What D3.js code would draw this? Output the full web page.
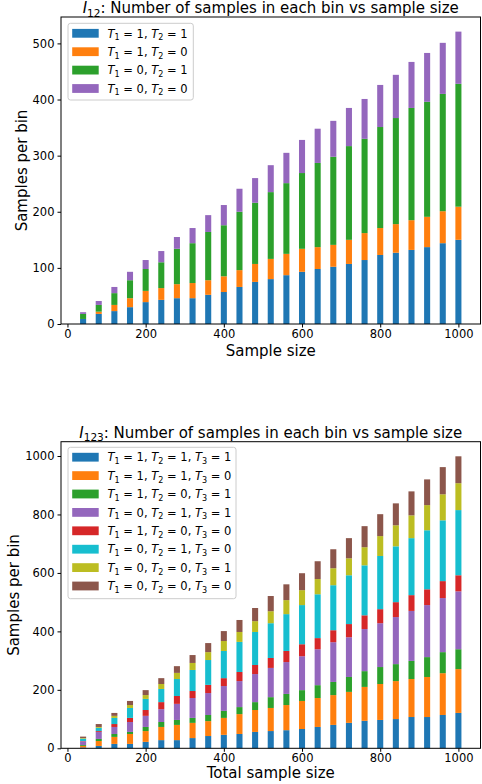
<!DOCTYPE html>
<html>
<head>
<meta charset="utf-8">
<script src="https://cdn.jsdelivr.net/npm/d3@7"></script>
<style>
  html, body { margin: 0; padding: 0; background: #fff; }
  svg { display: block; }
  text { font-family: "DejaVu Sans", sans-serif; white-space: pre; }
</style>
</head>
<body>
<svg id="chart" width="482" height="784"></svg>
<script>
// Sample sizes on the x axis
const sampleSizes = [40, 80, 120, 160, 200, 240, 280, 320, 360, 400, 440, 480, 520,
                     560, 600, 640, 680, 720, 760, 800, 840, 880, 920, 960, 1000];

// I12 panel: samples per (T1, T2) bin
const i12_11 = [9, 18, 23, 30, 39, 43, 46, 46, 52, 57, 66, 75, 80, 87, 93, 98, 102, 107, 114, 123, 127, 132, 137, 144, 150];
const i12_10 = [0, 4, 11, 16, 20, 21, 25, 27, 26, 28, 30, 32, 36, 38, 41, 39, 39, 43, 48, 48, 51, 53, 54, 57, 59];
const i12_01 = [9, 12, 21, 32, 39, 46, 63, 71, 86, 91, 104, 109, 119, 126, 135, 150, 157, 167, 168, 180, 189, 200, 205, 209, 219];
const i12_00 = [3, 7, 11, 15, 16, 20, 21, 27, 30, 36, 41, 44, 48, 54, 59, 61, 64, 68, 71, 75, 77, 82, 87, 91, 93];
const i12Labels = ["T_1 = 1, T_2 = 1", "T_1 = 1, T_2 = 0", "T_1 = 0, T_2 = 1", "T_1 = 0, T_2 = 0"];

// I123 panel: samples per (T1, T2, T3) bin
const i123_111 = [3, 8, 15, 15, 22, 28, 28, 35, 42, 46, 49, 56, 59, 62, 66, 73, 80, 87, 94, 97, 100, 107, 107, 114, 121];
const i123_110 = [5, 17, 24, 34, 37, 45, 52, 52, 51, 58, 68, 75, 79, 86, 96, 99, 102, 106, 116, 123, 130, 130, 137, 143, 150];
const i123_101 = [3, 7, 10, 7, 14, 17, 17, 17, 21, 24, 24, 27, 37, 38, 37, 44, 45, 51, 54, 58, 58, 62, 68, 72, 68];
const i123_011 = [13, 24, 24, 34, 38, 44, 55, 68, 75, 85, 89, 96, 100, 109, 116, 123, 136, 136, 144, 150, 161, 171, 178, 185, 198];
const i123_100 = [1, 3, 10, 14, 20, 24, 27, 24, 28, 27, 31, 31, 34, 38, 41, 38, 41, 45, 47, 48, 51, 54, 54, 58, 55];
const i123_010 = [8, 11, 21, 34, 38, 45, 58, 72, 85, 93, 103, 113, 119, 126, 134, 150, 154, 167, 171, 182, 191, 195, 202, 208, 223];
const i123_001 = [2, 3, 7, 10, 13, 17, 21, 24, 27, 34, 34, 37, 41, 48, 51, 52, 58, 58, 62, 68, 72, 78, 86, 89, 92];
const i123_000 = [5, 10, 10, 14, 17, 20, 23, 27, 31, 34, 41, 45, 52, 54, 58, 61, 65, 69, 72, 75, 75, 82, 88, 93, 92];
const i123Labels = ["T_1 = 1, T_2 = 1, T_3 = 1", "T_1 = 1, T_2 = 1, T_3 = 0", "T_1 = 1, T_2 = 0, T_3 = 1",
                    "T_1 = 0, T_2 = 1, T_3 = 1", "T_1 = 1, T_2 = 0, T_3 = 0", "T_1 = 0, T_2 = 1, T_3 = 0",
                    "T_1 = 0, T_2 = 0, T_3 = 1", "T_1 = 0, T_2 = 0, T_3 = 0"];

const xTicks = [0, 200, 400, 600, 800, 1000];
const yTicksTop = [0, 100, 200, 300, 400, 500];
const yTicksBottom = [0, 200, 400, 600, 800, 1000];

const tab10 = ["#1f77b4", "#ff7f0e", "#2ca02c", "#9467bd", "#d62728", "#17becf", "#bcbd22", "#8c564b"];

const svg = d3.select("#chart");
const barWidth = 15.5;

// Writes "T_1 = 1" style strings with italic letters and subscript digits
function mathText(sel, str, size) {
  const parts = str.split(/([A-Z]_\d+)/);
  let shift = 0;
  parts.forEach(p => {
    if (!p) return;
    const m = p.match(/^([A-Z])_(\d+)$/);
    if (m) {
      sel.append("tspan").attr("dy", shift).attr("font-style", "italic").text(m[1]);
      sel.append("tspan").attr("dy", size * 0.24).attr("font-size", size * 0.7).text(m[2]);
      shift = -size * 0.24;
    } else {
      sel.append("tspan").attr("dy", shift).text(p);
      shift = 0;
    }
  });
}

function panel(opts) {
  const { box, series, labels, colors, yTicks, title, xLabel, yLabelX, legendBox } = opts;
  const g = svg.append("g");
  const rows = sampleSizes.map((s, i) => {
    const r = { size: s };
    series.forEach((arr, k) => r["k" + k] = arr[i]);
    return r;
  });
  const keys = series.map((_, k) => "k" + k);
  const stacked = d3.stack().keys(keys)(rows);
  const maxTotal = d3.max(stacked[stacked.length - 1], d => d[1]);

  const lo = sampleSizes[0] - barWidth / 2, hi = sampleSizes[sampleSizes.length - 1] + barWidth / 2;
  const pad = (hi - lo) * 0.05;
  const x = d3.scaleLinear().domain([lo - pad, hi + pad]).range([box.left, box.right]);
  const y = d3.scaleLinear().domain([0, maxTotal * 1.05]).range([box.bottom, box.top]);

  // stacked bars
  stacked.forEach((layer, k) => {
    g.append("g").attr("fill", colors[k])
      .selectAll("rect").data(layer).join("rect")
      .attr("x", d => x(d.data.size - barWidth / 2))
      .attr("width", d => x(d.data.size + barWidth / 2) - x(d.data.size - barWidth / 2))
      .attr("y", d => y(d[1]))
      .attr("height", d => y(d[0]) - y(d[1]));
  });

  // axes
  const xAxis = d3.axisBottom(x).tickValues(xTicks).tickSize(3.5).tickPadding(2).tickFormat(d3.format("d"));
  const yAxis = d3.axisLeft(y).tickValues(yTicks).tickSize(3.5).tickPadding(3).tickFormat(d3.format("d"));
  const gx = g.append("g").attr("transform", `translate(0,${box.bottom})`).call(xAxis);
  const gy = g.append("g").attr("transform", `translate(${box.left},0)`).call(yAxis);
  [gx, gy].forEach(a => {
    a.select(".domain").remove();
    a.selectAll("text").attr("font-size", 11.5).attr("fill", "#000").attr("font-family", "DejaVu Sans");
    a.selectAll("line").attr("stroke", "#000").attr("stroke-width", 1);
  });

  // frame
  g.append("rect")
    .attr("x", box.left).attr("y", box.top)
    .attr("width", box.right - box.left).attr("height", box.bottom - box.top)
    .attr("fill", "none").attr("stroke", "#000").attr("stroke-width", 1);

  // title
  const t = g.append("text")
    .attr("x", (box.left + box.right) / 2).attr("y", box.top - 4)
    .attr("text-anchor", "middle").attr("font-size", 15);
  mathText(t, title, 15);

  // axis labels
  g.append("text").attr("x", (box.left + box.right) / 2).attr("y", opts.xLabelY)
    .attr("text-anchor", "middle").attr("font-size", 15).text(xLabel);
  g.append("text")
    .attr("transform", `translate(${yLabelX},${(box.top + box.bottom) / 2}) rotate(-90)`)
    .attr("text-anchor", "middle").attr("font-size", 15).text("Samples per bin");

  // legend
  const lg = g.append("g");
  lg.append("rect")
    .attr("x", legendBox.x).attr("y", legendBox.y)
    .attr("width", legendBox.w).attr("height", legendBox.h)
    .attr("rx", 2.5).attr("fill", "#fff").attr("fill-opacity", 0.8)
    .attr("stroke", "#cccccc").attr("stroke-width", 1);
  labels.forEach((lab, k) => {
    const cy = legendBox.row0 + k * 18.4;
    lg.append("rect").attr("x", legendBox.x + 4.2).attr("y", cy - 4.4)
      .attr("width", 26.5).attr("height", 8.8).attr("fill", colors[k]);
    const tx = lg.append("text").attr("x", legendBox.x + 39.5).attr("y", cy + 4.2)
      .attr("font-size", 11.5);
    mathText(tx, lab, 11.5);
  });
}

panel({
  box: { left: 61, right: 480.5, top: 17, bottom: 324 },
  series: [i12_11, i12_10, i12_01, i12_00],
  labels: i12Labels,
  colors: tab10.slice(0, 4),
  yTicks: yTicksTop,
  title: "I_12: Number of samples in each bin vs sample size",
  xLabel: "Sample size",
  xLabelY: 355.5,
  yLabelX: 27,
  legendBox: { x: 68, y: 23.3, w: 125.3, h: 76.7, row0: 33.3 }
});

panel({
  box: { left: 61, right: 480.5, top: 441.7, bottom: 748.3 },
  series: [i123_111, i123_110, i123_101, i123_011, i123_100, i123_010, i123_001, i123_000],
  labels: i123Labels,
  colors: tab10,
  yTicks: yTicksBottom,
  title: "I_123: Number of samples in each bin vs sample size",
  xLabel: "Total sample size",
  xLabelY: 778,
  yLabelX: 19,
  legendBox: { x: 68, y: 447.3, w: 168, h: 151.4, row0: 457.2 }
});
</script>
</body>
</html>
